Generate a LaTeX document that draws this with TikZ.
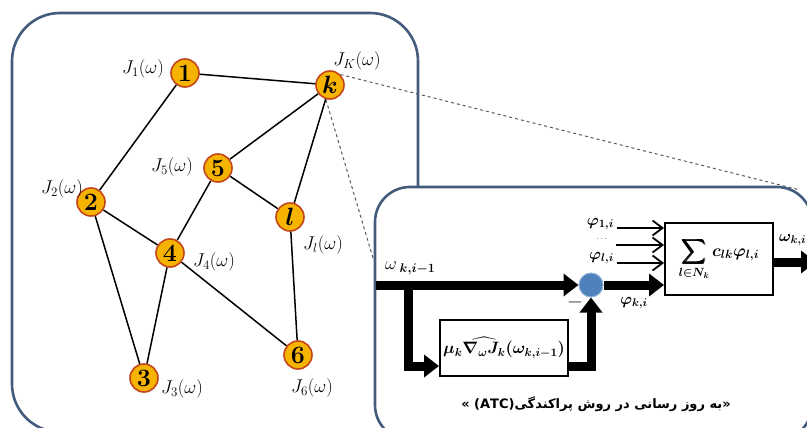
\RequirePackage{fix-cm}
\documentclass[tikz,border=0pt]{standalone}
\usepackage{amsmath,amssymb,bm}
\usepackage{fontspec}
\newfontfamily\farsifont[Script=Arabic]{DejaVu Sans}
\TeXXeTstate=1
\usetikzlibrary{arrows.meta,positioning,calc}
\definecolor{frame}{HTML}{435C7E}
\definecolor{agentfill}{HTML}{F6B400}
\definecolor{agentline}{HTML}{C4471C}
\definecolor{junctfill}{HTML}{4F81BD}
\definecolor{junctline}{HTML}{93B3DA}
\definecolor{zoomgray}{HTML}{5A5A5A}

\tikzset{
  panel/.style={draw=frame,line width=2.6pt,fill=white},
  agent/.style={circle,draw=agentline,line width=1.6pt,fill=agentfill,minimum size=28pt,
                inner sep=0pt,font=\fontsize{25}{26}\selectfont\bfseries},
  cost/.style={font=\fontsize{18.5}{20}\selectfont,inner sep=0pt},
  link/.style={line width=1.5pt},
  zoomline/.style={draw=zoomgray,dashed,line width=1pt},
  bigflow/.style={line width=9pt,-{Triangle[length=15pt,width=22pt]}},
  feed/.style={line width=1.8pt,-{Straight Barb[length=10pt,width=15pt]}},
  blockbox/.style={draw,line width=2pt,fill=white,inner sep=1pt},
  sig/.style={font=\fontsize{16}{18}\selectfont,inner sep=0pt}
}

\begin{document}
\begin{tikzpicture}[x=1pt,y=-1pt]
  \useasboundingbox (0,0) rectangle (807,428);
  \clip (0,0) rectangle (807,428);

  % network of agents
  \draw[panel,rounded corners=48pt] (12,13) rectangle (418,432);

  \node[agent] (n1) at (185,73) {1};
  \node[agent] (nk) at (330,85) {$\boldsymbol{k}$};
  \node[agent] (n5) at (218,168) {5};
  \node[agent] (n2) at (91,202) {2};
  \node[agent] (nl) at (290,217) {$\boldsymbol{l}$};
  \node[agent] (n4) at (170,253) {4};
  \node[agent] (n6) at (298,355) {6};
  \node[agent] (n3) at (144,378) {3};

  \draw[link] (n1) -- (nk);
  \draw[link] (n1) -- (n2);
  \draw[link] (nk) -- (n5);
  \draw[link] (nk) -- (nl);
  \draw[link] (n5) -- (nl);
  \draw[link] (n5) -- (n4);
  \draw[link] (n2) -- (n4);
  \draw[link] (n2) -- (n3);
  \draw[link] (n4) -- (n3);
  \draw[link] (n4) -- (n6);
  \draw[link] (nl) -- (n6);

  \node[cost] (c1) at (143,69) {$J_1(\omega)$};
  \node[cost] (ck) at (357,61) {$J_K(\omega)$};
  \node[cost] (c5) at (172,167) {$J_5(\omega)$};
  \node[cost] (c2) at (62,189) {$J_2(\omega)$};
  \node[cost] (cl) at (323,245) {$J_l(\omega)$};
  \node[cost] (c4) at (214,262) {$J_4(\omega)$};
  \node[cost] (c6) at (312,388) {$J_6(\omega)$};
  \node[cost] (c3) at (182,389) {$J_3(\omega)$};

  % zoom onto agent k
  \coordinate (zoomtop) at (800,190);
  \coordinate (zoomleft) at (373,258);
  \draw[zoomline] (nk.north east) -- (zoomtop);
  \draw[zoomline] ([shift={(-4,0)}]nk.south) -- (zoomleft);

  % ATC update of agent k
  \draw[panel,rounded corners=35pt] (375,187) rectangle (812,440);

  \node[circle,fill=junctfill,draw=junctline,line width=1pt,minimum size=24pt,inner sep=0pt]
        (junc) at (591,285) {};
  \node[blockbox,minimum width=108pt,minimum height=72pt] (sumbox) at (719,259)
        {\fontsize{17}{19}\selectfont$\boldsymbol{\displaystyle\sum_{l\in N_k} c_{lk}\varphi_{l,i}}$};
  \node[blockbox,minimum width=128pt,minimum height=56pt,inner sep=0pt] (gradbox) at (504,348)
        {\fontsize{16.5}{18}\selectfont$\boldsymbol{\mu_k\widehat{\nabla_{\omega}J_k}(\omega_{k,i-1})}$};

  \node[sig,anchor=west,font=\fontsize{18}{20}\selectfont] (win) at (385,268)
        {$\omega_{\;\boldsymbol{k,i-1}}$};
  \node[sig,anchor=east] (phi1) at (614,224) {$\boldsymbol{\varphi_{1,i}}$};
  \node[sig,anchor=east,font=\small] (phid) at (609,239) {$\dots$};
  \node[sig,anchor=east] (phil) at (614,258) {$\boldsymbol{\varphi_{l,i}}$};
  \node[sig] (phik) at (634,303) {$\boldsymbol{\varphi_{k,i}}$};
  \node[sig,anchor=west] (wout) at (779,240) {$\boldsymbol{\omega_{k,i}}$};
  \node[sig,font=\fontsize{22}{22}\selectfont\bfseries] (minus) at (575,305) {--};

  \coordinate (start) at (376,285);
  \coordinate (branch) at (408,285);
  \coordinate (gin) at ($(gradbox.south west)+(0,-11)$);
  \coordinate (gout) at ($(gradbox.south east)+(0,-11)$);
  \coordinate (outend) at (816,262);

  \draw[bigflow] (start) -- (junc.west);
  \draw[bigflow] (branch) |- (gin);
  \draw[bigflow] (gout) -| (junc.south);
  \draw[bigflow] (junc.east) -- (junc.east -| sumbox.west);
  \draw[bigflow] (sumbox.east |- outend) -- (outend);

  \draw[feed] ([xshift=3pt]phi1.east |- 0,228) -- (sumbox.west |- 0,228);
  \draw[feed] ([xshift=7pt]phid.east |- 0,245) -- (sumbox.west |- 0,245);
  \draw[feed] ([xshift=3pt]phil.east |- 0,263) -- (sumbox.west |- 0,263);

  \node[font=\fontsize{13}{15}\selectfont] (caption) at (596,404)
        {\farsifont\bfseries\beginR «به روز رسانی در روش پراکندگی(ATC) »\endR};
\end{tikzpicture}
\end{document}
